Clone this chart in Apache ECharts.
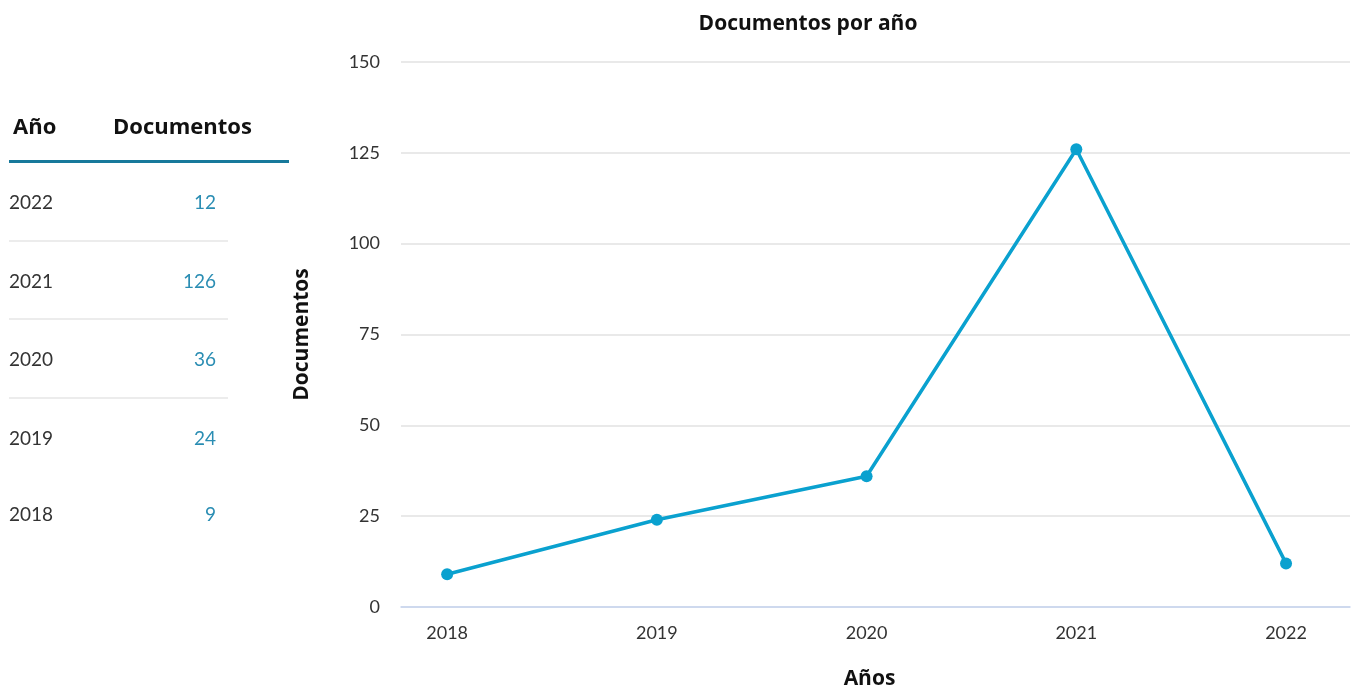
<!DOCTYPE html>
<html>
<head>
<meta charset="utf-8">
<script src="https://cdn.jsdelivr.net/npm/echarts@6/dist/echarts.min.js"></script>
<style>
  body { margin: 0; background: #fff; font-family: Lato, "Noto Sans", sans-serif; }
  #wrap { position: relative; width: 1359px; height: 692px; }
  #table { position: absolute; left: 9px; top: 108px; width: 280px; }
  .head { position: relative; height: 52px; border-bottom: 3px solid #17799b; font-weight: bold; font-size: 22px; color: #111; font-family: "Open Sans", sans-serif; }
  .head span { position: absolute; top: 2px; }
  .row { position: relative; height: 76.5px; width: 219px; font-size: 19px; color: #333; }
  .row.sep { border-bottom: 2px solid #ececec; }
  .row .y { position: absolute; left: 0; top: 27px; }
  .row .v { position: absolute; right: 12px; top: 27px; color: #2a8db3; }
  #chart { position: absolute; left: 0; top: 0; width: 1359px; height: 692px; }
</style>
</head>
<body>
<div id="wrap">
  <div id="chart"></div>
  <div id="table"></div>
</div>
<script>
const years = [2018, 2019, 2020, 2021, 2022]
const docs = [9, 24, 36, 126, 12]
const yTicks = [0, 25, 50, 75, 100, 125, 150]

// tabla lateral (años en orden descendente)
let tableHtml = '<div class="head"><span style="left:4px">Año</span><span style="left:104px">Documentos</span></div>'
const rows = years.map((y, i) => ({ y: y, v: docs[i] })).reverse()
rows.forEach((r, i) => {
  const sep = i < 3 ? ' sep' : ''
  tableHtml += '<div class="row' + sep + '"><span class="y">' + r.y + '</span><span class="v">' + r.v + '</span></div>'
})
document.getElementById('table').innerHTML = tableHtml

let myChart = echarts.init(document.getElementById('chart'))
const boldText = { fontFamily: '"Open Sans", sans-serif', fontSize: 21, fontWeight: 'bold', color: '#111' }
const options = {
  textStyle: { fontFamily: 'Lato, "Noto Sans", sans-serif' },
  title: {
    text: 'Documentos por año',
    left: 803,
    top: 9,
    textAlign: 'center',
    textStyle: boldText
  },
  grid: {
    left: 401,
    right: 9,
    top: 62,
    bottom: 85,
    outerBoundsMode: 'none'
  },
  xAxis: {
    type: 'value',
    min: 2017.78,
    max: 2022.305,
    name: 'Años',
    nameLocation: 'middle',
    nameGap: 62,
    nameTextStyle: Object.assign({}, boldText, { padding: [0, 12, 0, 0] }),
    axisLine: { show: true, lineStyle: { color: '#c5d3ef', width: 1.5 } },
    axisTick: { show: false },
    splitLine: { show: false },
    axisLabel: {
      customValues: years,
      color: '#333',
      fontSize: 18,
      margin: 17,
      formatter: v => String(v)
    }
  },
  yAxis: {
    type: 'value',
    min: 0,
    max: 150,
    interval: 25,
    name: 'Documentos',
    nameLocation: 'middle',
    nameGap: 88,
    nameTextStyle: boldText,
    axisLine: { show: false },
    axisTick: { show: false },
    axisLabel: { color: '#333', fontSize: 18, margin: 21 },
    splitLine: { lineStyle: { color: '#e2e2e2', width: 1.5 } }
  },
  series: [
    {
      name: 'Documentos',
      type: 'line',
      data: years.map((y, i) => [y, docs[i]]),
      symbol: 'circle',
      symbolSize: 12,
      lineStyle: { color: '#0aa1cf', width: 3.5 },
      itemStyle: { color: '#0aa1cf' }
    }
  ]
}
myChart.setOption(options)
</script>
</body>
</html>
